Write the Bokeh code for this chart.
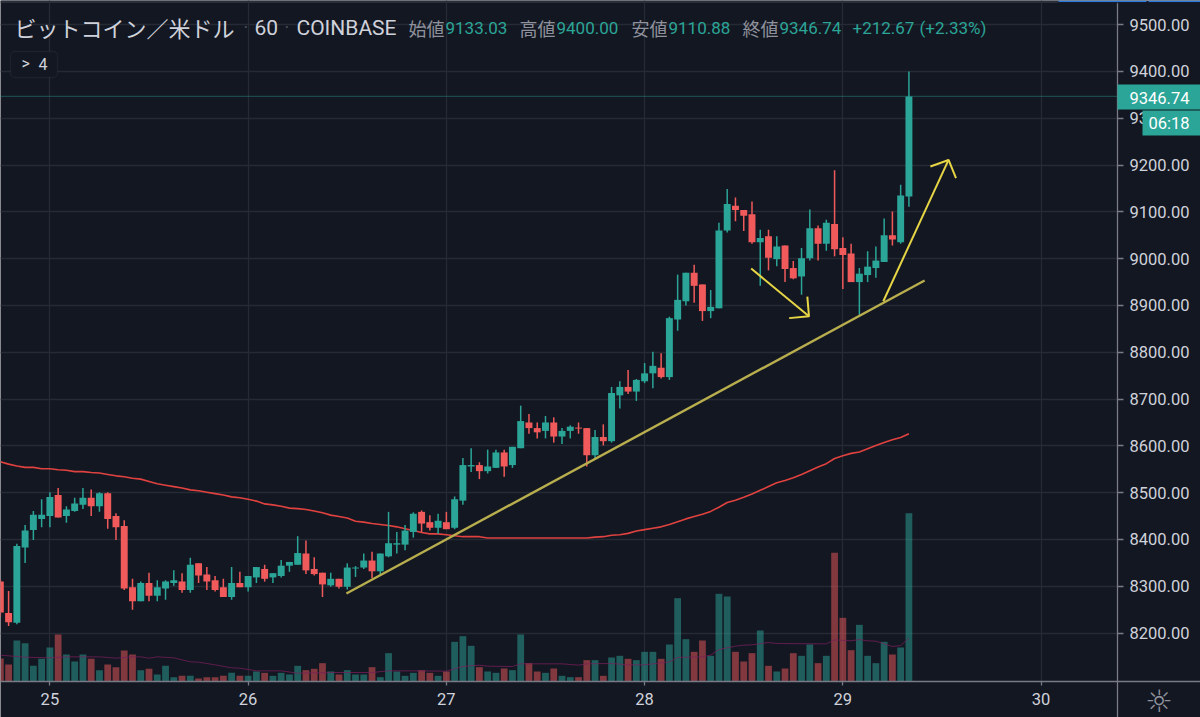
from bokeh.plotting import figure
from bokeh.models import (ColumnDataSource, Range1d, FixedTicker, Label, BoxAnnotation)
from bokeh.embed import file_html
from bokeh.resources import INLINE

# ---- data (hourly bars; index 0 = start of the 25th) ----
bar_index = list(range(-6, 105))
open_ = [8310, 8243, 8222, 8383, 8420, 8444, 8450, 8495, 8450, 8461,
         8474, 8489, 8471, 8499, 8450, 8429, 8298, 8268, 8307, 8280,
         8295, 8307, 8310, 8292, 8349, 8325, 8313, 8298, 8277, 8307,
         8298, 8319, 8337, 8319, 8322, 8344, 8346, 8370, 8337, 8329,
         8302, 8316, 8299, 8338, 8340, 8355, 8332, 8364, 8389, 8389,
         8416, 8459, 8437, 8425, 8437, 8425, 8483, 8556, 8559, 8546,
         8553, 8586, 8559, 8595, 8650, 8638, 8632, 8650, 8620, 8632,
         8639, 8638, 8580, 8619, 8610, 8708, 8726, 8716, 8738, 8755,
         8767, 8747, 8870, 8909, 8970, 8945, 8888, 8894, 9060, 9113,
         9104, 9095, 9035, 9048, 8999, 9028, 8980, 8962, 9001, 9065,
         9032, 9074, 9023, 9011, 8950, 8965, 8980, 8993, 9050, 9035,
         9133.03]
close = [8244, 8223, 8386, 8419, 8453, 8453, 8491, 8447, 8464, 8477,
         8489, 8471, 8499, 8444, 8426, 8295, 8268, 8307, 8280, 8298,
         8310, 8313, 8292, 8346, 8323, 8310, 8292, 8277, 8307, 8298,
         8322, 8341, 8316, 8328, 8344, 8352, 8371, 8334, 8326, 8304,
         8316, 8299, 8340, 8340, 8355, 8332, 8370, 8392, 8392, 8419,
         8455, 8434, 8425, 8440, 8422, 8486, 8559, 8559, 8546, 8556,
         8586, 8556, 8598, 8653, 8638, 8629, 8650, 8620, 8632, 8641,
         8637, 8580, 8619, 8610, 8713, 8726, 8716, 8741, 8755, 8771,
         8747, 8873, 8912, 8970, 8942, 8888, 8897, 9060, 9117, 9104,
         9092, 9035, 9044, 9002, 9026, 8978, 8958, 9001, 9065, 9032,
         9077, 9020, 9008, 8950, 8968, 8983, 8996, 9050, 9041, 9135,
         9346.74]
high = [8315, 8290, 8391, 8431, 8461, 8486, 8501, 8510, 8471, 8489,
        8510, 8507, 8501, 8501, 8456, 8441, 8316, 8310, 8329, 8313,
        8313, 8334, 8328, 8361, 8349, 8341, 8322, 8316, 8341, 8331,
        8322, 8341, 8346, 8328, 8356, 8352, 8407, 8398, 8362, 8329,
        8329, 8316, 8349, 8343, 8370, 8374, 8370, 8459, 8416, 8431,
        8458, 8462, 8452, 8455, 8459, 8492, 8574, 8595, 8565, 8592,
        8592, 8592, 8598, 8686, 8668, 8650, 8664, 8661, 8638, 8644,
        8650, 8638, 8634, 8646, 8726, 8738, 8762, 8743, 8777, 8801,
        8798, 8876, 8966, 8970, 8987, 8945, 8933, 9077, 9149, 9131,
        9104, 9122, 9062, 9062, 9048, 9028, 8995, 9023, 9105, 9071,
        9083, 9189, 9046, 9032, 8980, 9016, 9026, 9086, 9101, 9158,
        9400.00]
low = [8235, 8215, 8219, 8350, 8399, 8426, 8426, 8447, 8436, 8459,
       8465, 8450, 8459, 8423, 8399, 8292, 8250, 8268, 8268, 8268,
       8271, 8301, 8286, 8286, 8307, 8292, 8289, 8277, 8271, 8298,
       8289, 8307, 8310, 8307, 8319, 8331, 8346, 8326, 8323, 8277,
       8299, 8295, 8293, 8320, 8337, 8317, 8323, 8362, 8370, 8377,
       8404, 8416, 8419, 8412, 8422, 8422, 8474, 8544, 8529, 8541,
       8553, 8534, 8553, 8595, 8626, 8616, 8616, 8607, 8604, 8616,
       8626, 8556, 8574, 8601, 8607, 8680, 8711, 8696, 8734, 8723,
       8744, 8741, 8846, 8900, 8906, 8867, 8873, 8894, 9056, 9080,
       9059, 9032, 8942, 8975, 8984, 8950, 8956, 8923, 8996, 8996,
       9017, 9005, 8935, 8950, 8880, 8950, 8959, 8993, 9028, 9032,
       9110.88]
volume = [69, 51, 123, 115, 47, 68, 102, 141, 81, 60,
          81, 68, 34, 51, 43, 93, 81, 34, 38, 21,
          47, 13, 17, 17, 9, 13, 13, 17, 26, 17,
          17, 30, 26, 17, 26, 21, 47, 34, 38, 55,
          30, 21, 34, 21, 21, 43, 13, 85, 30, 17,
          26, 34, 26, 17, 30, 119, 136, 107, 43, 30,
          26, 39, 34, 141, 55, 30, 26, 39, 17, 13,
          13, 64, 64, 17, 72, 77, 68, 64, 89, 89,
          68, 111, 250, 127, 89, 123, 77, 263, 255, 89,
          60, 85, 153, 47, 30, 39, 85, 77, 111, 55,
          77, 386, 191, 94, 170, 77, 55, 119, 81, 102,
          505]
ma_price = [8566, 8561, 8557, 8554, 8554, 8551, 8551, 8549, 8548, 8545,
            8545, 8543, 8542, 8539, 8536, 8534, 8531, 8529, 8524, 8519,
            8516, 8513, 8510, 8506, 8504, 8501, 8498, 8495, 8491, 8489,
            8486, 8482, 8476, 8474, 8471, 8467, 8466, 8464, 8461, 8457,
            8452, 8449, 8446, 8439, 8437, 8434, 8432, 8430, 8427, 8423,
            8419, 8415, 8412, 8412, 8410, 8408, 8406, 8406, 8406, 8403,
            8403, 8403, 8403, 8403, 8403, 8403, 8403, 8403, 8403, 8403,
            8403, 8403, 8405, 8406, 8409, 8410, 8413, 8418, 8421, 8424,
            8427, 8432, 8438, 8444, 8449, 8454, 8460, 8469, 8479, 8484,
            8490, 8497, 8505, 8513, 8521, 8526, 8532, 8539, 8547, 8555,
            8562, 8573, 8579, 8584, 8587, 8594, 8601, 8607, 8613, 8618,
            8626]
vol_ma_index = [-6, -3, 0, 2, 6, 8, 10, 11, 12, 13, 15, 17, 18, 20, 22, 23, 25, 28, 30, 34,
                39, 41, 44, 48, 49, 50, 52, 53, 56, 57, 62, 64, 65, 68, 70, 72, 75, 76, 79,
                80, 81, 83, 84, 85, 87, 88, 93, 94, 95, 97, 98, 99, 100, 101, 102, 103, 104]
vol_ma = [79, 73, 71, 74, 74, 70, 74, 74, 70, 74, 71, 59, 58, 50, 41, 40, 32, 32, 25, 27,
          27, 32, 32, 31, 38, 45, 49, 46, 45, 53, 53, 49, 53, 54, 50, 50, 59, 72, 74,
          79, 96, 106, 109, 110, 117, 114, 113, 113, 125, 122, 126, 122, 121, 113, 105, 108, 130]

# hand-drawn annotations, in (bar index, price)
trend_x = [35.9, 105.9]
trend_y = [8284.6, 8953.4]
down_arrow_x = [84.9, 91.9]
down_arrow_y = [8979, 8877]
down_barb_x = [89.5, 91.9, 91.7]
down_barb_y = [8873, 8877, 8919]
up_arrow_x = [100.9, 108.8]
up_arrow_y = [8909, 9211]
up_barb_x = [106.6, 108.8, 109.7]
up_barb_y = [9197, 9211, 9172]

price_ticks = [8200, 8300, 8400, 8500, 8600, 8700, 8800, 8900, 9000, 9100, 9200, 9300, 9400, 9500]
day_ticks = [0, 24, 48, 72, 96, 120]
day_labels = ["25", "26", "27", "28", "29", "30"]
last_price = 9346.74

title_text = "ビットコイン／米ドル"
interval_text = "60"
exchange_text = "COINBASE"
ohlc_names = ["始値", "高値", "安値", "終値"]
ohlc_values = ["9133.03", "9400.00", "9110.88", "9346.74"]
change_text = "+212.67"
change_pct_text = "(+2.33%)"
countdown_text = "06:18"

# ---- style ----
BG = "#131722"
GRID = "#262a35"
AXIS = "#787b86"
TXT = "#cfd2da"
UP = "#2ba597"
DOWN = "#f05a5a"
W, H = 1200, 717
# the price scale sits inside the drawing area so the badges over it can show
X_LEFT, X_AXIS, X_RIGHT = -5.98, 129.25, 139.3
Y_BOTTOM, Y_AXIS, Y_TOP = 8019.6, 8096.6, 9551.7

p = figure(width=W, height=H, output_backend="svg", toolbar_location=None,
           x_range=Range1d(X_LEFT, X_RIGHT), y_range=Range1d(Y_BOTTOM, Y_TOP),
           background_fill_color=BG, border_fill_color=BG,
           min_border_left=0, min_border_top=0, min_border_right=0, min_border_bottom=0,
           y_axis_location="right", outline_line_color=None)
p.extra_y_ranges = {"vol": Range1d(-108, 2043)}

colors = [UP if c >= o else DOWN for o, c in zip(open_, close)]
src = ColumnDataSource(dict(x=bar_index, o=open_, c=close, h=high, l=low, v=volume, color=colors,
                            top=[max(a, b) for a, b in zip(open_, close)],
                            bottom=[min(a, b) for a, b in zip(open_, close)]))

# grid and axes
for g, ticks in ((p.xgrid, day_ticks), (p.ygrid, price_ticks)):
    g.grid_line_color = GRID
    g.grid_line_width = 1.3
    g.ticker = FixedTicker(ticks=ticks)
p.xgrid.cross_bounds = (Y_AXIS, Y_TOP)
p.ygrid.cross_bounds = (X_LEFT, X_AXIS)

xa = p.xaxis[0]
xa.ticker = FixedTicker(ticks=day_ticks)
xa.major_label_overrides = dict(zip(day_ticks, day_labels))
xa.fixed_location = Y_AXIS
ya = p.yaxis[0]
ya.ticker = FixedTicker(ticks=price_ticks)
ya.major_label_overrides = {t: f"{t:.2f}" for t in price_ticks}
ya.fixed_location = X_AXIS
for a in (xa, ya):
    a.axis_line_color = AXIS
    a.axis_line_width = 1.3
    a.major_tick_line_color = AXIS
    a.major_tick_line_width = 1.3
    a.minor_tick_line_color = None
    a.major_tick_in = 0
    a.major_label_text_color = TXT
    a.major_label_text_font = "Roboto"
    a.major_label_text_font_size = "16.5px"
xa.major_tick_out = 4
xa.major_label_standoff = 8
ya.major_tick_out = 6
ya.major_label_standoff = 6

# volume
p.vbar(x="x", top="v", bottom=0, width=0.82, source=src, y_range_name="vol",
       fill_color="color", fill_alpha=0.5, line_color=None)
p.line(vol_ma_index, vol_ma, y_range_name="vol", line_color="#7a1f5c", line_width=1, line_alpha=0.75)

# moving average
p.line(bar_index, ma_price, line_color="#e0423f", line_width=1.6)

# last price line
p.line([X_LEFT, X_AXIS], [last_price, last_price], line_color=UP, line_alpha=0.7,
       line_width=1.2, line_dash=[1, 1])

# candles
p.segment(x0="x", x1="x", y0="l", y1="h", source=src, line_color="color", line_width=1.5)
p.vbar(x="x", top="top", bottom="bottom", width=0.84, source=src, fill_color="color", line_color=None)

# drawings
p.line(trend_x, trend_y, line_color="#b8ae4e", line_width=2.4)
for xs, ys in ((down_arrow_x, down_arrow_y), (down_barb_x, down_barb_y),
               (up_arrow_x, up_arrow_y), (up_barb_x, up_barb_y)):
    p.line(xs, ys, line_color="#e6d545", line_width=2)


# --- header and badges are positioned in page pixels ---
def sy(y):
    return H - y


def text(x, y, s, color=TXT, size=17, font="Roboto", align="left", **kw):
    p.add_layout(Label(x=x, y=sy(y), x_units="screen", y_units="screen", text=s,
                       text_color=color, text_font=font, text_font_size=f"{size}px",
                       text_align=align, text_baseline="middle", **kw))


def box(x0, x1, y0, y1, color, **kw):
    p.add_layout(BoxAnnotation(left=x0, right=x1, top=sy(y0), bottom=sy(y1),
                               left_units="screen", right_units="screen",
                               top_units="screen", bottom_units="screen",
                               fill_color=color, fill_alpha=1, **kw))


# strip along the top edge of the page
box(0, 1058, 0, 2.5, "#2a2e39", line_color=None)
box(1058, 1146, 0, 1.7, "#2a79d8", line_color=None)
box(1148, 1200, 0, 1.7, "#2a79d8", line_color=None)
box(1058, 1200, 1.7, 2.8, BG, line_color=None)

CJK = "Noto Sans CJK JP"
GREY = "#8f929c"
text(14, 26, title_text, size=22, font=CJK)
text(243, 27, "·", color="#4a4e5a", size=18)
text(254, 27, interval_text, size=21)
text(284, 27, "·", color="#4a4e5a", size=18)
text(296, 27, exchange_text, size=21)
for x_name, x_val, n, v in zip((408, 519, 631, 742), (445, 556, 668, 779), ohlc_names, ohlc_values):
    text(x_name, 27, n, color=GREY, size=18, font=CJK)
    text(x_val, 27, v, color=UP, size=17)
text(852, 27, change_text, color=UP, size=17)
text(919, 27, change_pct_text, color=UP, size=17)

# indicator-count badge
box(10, 57, 51, 77, BG, line_color="#363a45", line_width=1.3, border_radius=4)
text(21, 63, ">", color=TXT, size=16)
text(38, 63, "4", color=TXT, size=16)

# price-scale badges
box(1117, 1200, 84, 109, UP, line_color=None)
text(1129, 97, f"{last_price:.2f}", color="#ffffff", size=16.5)
box(1142, 1200, 110, 135, UP, line_color=None)
text(1148, 123, countdown_text, color="#ffffff", size=16.5)

# settings icon
text(1158.5, 700, "☼", color=GREY, size=31, font="DejaVu Sans", align="center")

open("out.html", "w").write(file_html(p, INLINE, title="BTCUSD"))
